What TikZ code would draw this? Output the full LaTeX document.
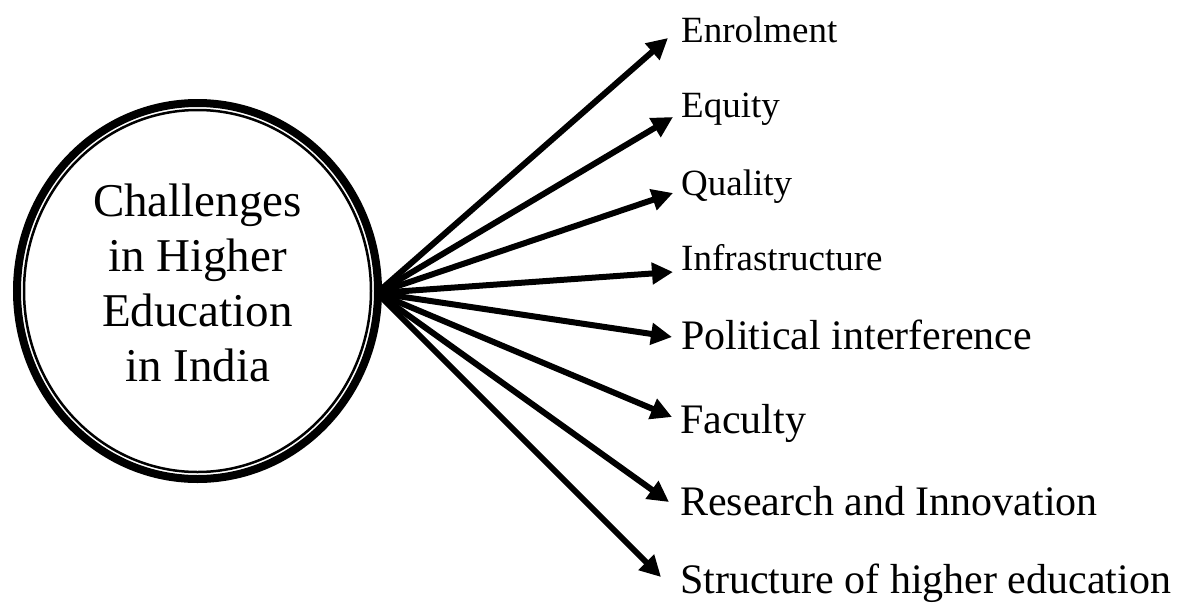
\documentclass[tikz,border=0pt]{standalone}
\usepackage{fontspec}
\setmainfont{Liberation Serif}
\usetikzlibrary{arrows.meta,shapes.geometric}
\tikzset{
  arr/.style={line width=6pt,-{Triangle[length=21pt,width=21pt]}},
  smalllab/.style={anchor=base west,inner sep=0pt,font=\fontsize{37}{40}\selectfont,text height=8pt,text depth=6pt},
  biglab/.style={anchor=base west,inner sep=0pt,font=\fontsize{42}{46}\selectfont,text height=34pt,text depth=6pt},
  outerring/.style={ellipse,draw,line width=8pt,inner sep=0pt,minimum width=361pt,minimum height=376pt},
  innerring/.style={line width=2.5pt},
  centertext/.style={align=center,inner sep=0pt,font=\fontsize{47}{55}\selectfont}
}
\begin{document}
\begin{tikzpicture}[x=1pt,y=-1pt]
\useasboundingbox (0,0) rectangle (1181,606);
\node[outerring] (c) at (197.5,291) {};
\draw[innerring] (c.center) ellipse[x radius=173.5,y radius=181];
\node[centertext] (ct) at (197.5,283) {Challenges\\in Higher\\Education\\in India};
\coordinate (O) at ([shift={(-5,2)}]c.east);

\node[smalllab] (l1) at (681,42) {Enrolment};
\node[smalllab] (l2) at (681,117) {Equity};
\node[smalllab] (l3) at (681,195) {Quality};
\node[smalllab] (l4) at (681,270) {Infrastructure};
\node[biglab] (l5) at (681,349) {Political interference};
\node[biglab] (l6) at (680,433) {Faculty};
\node[biglab] (l7) at (680,515) {Research and Innovation};
\node[biglab] (l8) at (680,593) {Structure of higher education};

\draw[arr] (O) -- ([shift={(-13,-3)}]l1.west);
\draw[arr] (O) -- ([shift={(-8,1)}]l2.west);
\draw[arr] (O) -- ([shift={(-8,-1)}]l3.west);
\draw[arr] (O) -- ([shift={(-8,3)}]l4.west);
\draw[arr] (O) -- ([shift={(-9,2)}]l5.west);
\draw[arr] (O) -- ([shift={(-8,-2)}]l6.west);
\draw[arr] (O) -- ([shift={(-11,1)}]l7.west);
\draw[arr] (O) -- ([shift={(-19,-2)}]l8.west);
\end{tikzpicture}
\end{document}
